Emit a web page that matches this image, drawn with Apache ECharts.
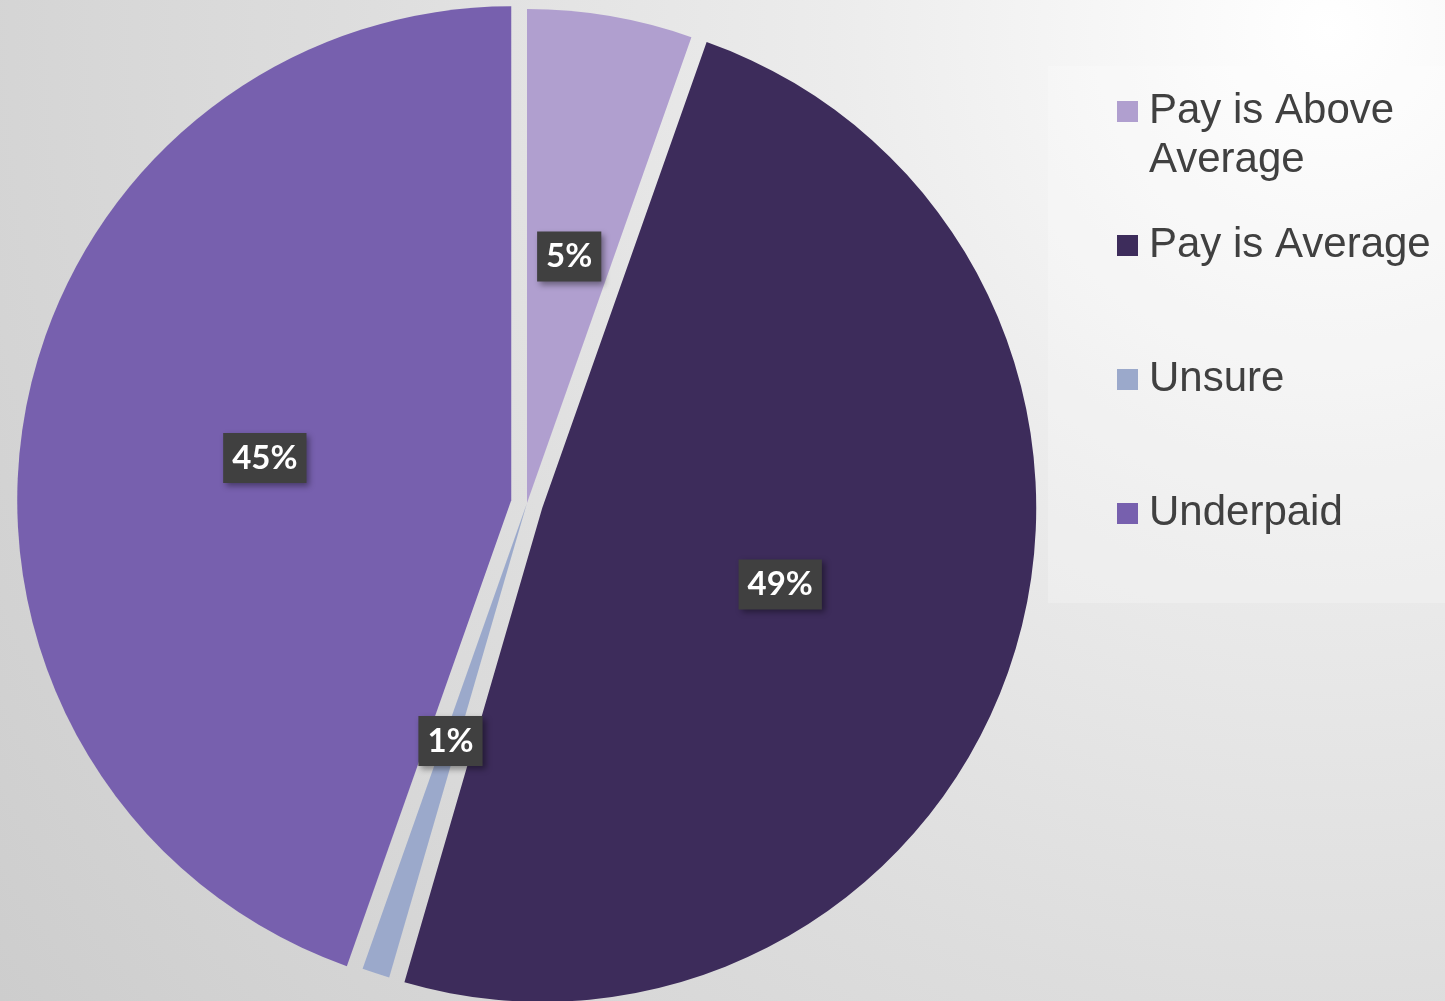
<!DOCTYPE html>
<html>
<head>
<meta charset="utf-8">
<script src="https://cdn.jsdelivr.net/npm/echarts@6/dist/echarts.min.js"></script>
<style>
html,body{margin:0;padding:0;}
#c{width:1445px;height:1001px;background:radial-gradient(circle farthest-corner at 92% 3%, #ffffff 0%, #ececec 30%, #dddddd 60%, #cdcdcd 100%);}
</style>
</head>
<body>
<div id="c"></div>
<script>
// ---- data ----
const categories = ['Pay is Above Average', 'Pay is Average', 'Unsure', 'Underpaid'];
const values = [5.4, 49.1, 0.9, 44.6];
const exploded = [false, true, false, true];
const sliceColors = ['#B09FCF', '#3D2C5B', '#9BA9CB', '#7760AE'];

// ---- chart ----
const chart = echarts.init(document.getElementById('c'), null, {renderer: 'canvas'});

const legendTops = [38, 221, 355, 489];
const legends = categories.map((name, i) => ({
  orient: 'vertical',
  left: 1117,
  top: legendTops[i],
  padding: 0,
  selectedMode: false,
  icon: 'rect',
  itemWidth: 21,
  itemHeight: 21,
  formatter: function (n) {
    return n === 'Pay is Above Average' ? '\nPay is Above\nAverage' : n;
  },
  textStyle: {
    fontFamily: 'Liberation Sans, Arial, sans-serif',
    fontSize: 42,
    lineHeight: 49,
    color: '#404040',
    padding: [0, 0, 0, 6]
  },
  data: [{name: name}]
}));

const option = {
  backgroundColor: 'transparent',
  animation: false,
  color: sliceColors,
  graphic: [{
    type: 'rect',
    left: 1048,
    top: 66,
    shape: {width: 397, height: 537},
    style: {fill: 'rgba(255,255,255,0.22)'},
    silent: true,
    z: -10
  }],
  legend: legends,
  series: [{
    type: 'pie',
    center: [527, 503],
    radius: 494,
    startAngle: 90,
    clockwise: true,
    selectedMode: 'multiple',
    selectedOffset: 16,
    avoidLabelOverlap: false,
    emphasis: {disabled: true},
    select: {itemStyle: {}},
    itemStyle: {borderWidth: 0},
    label: {
      show: true,
      position: 'inside',
      formatter: function (p) { return Math.round(p.percent) + '%'; },
      color: '#ffffff',
      fontFamily: 'Lato, Open Sans, sans-serif',
      fontWeight: 'bold',
      fontSize: 33,
      lineHeight: 32,
      backgroundColor: '#404040',
      padding: [9, 9, 9, 9],
      shadowColor: 'rgba(0,0,0,0.4)',
      shadowBlur: 6,
      shadowOffsetX: 3,
      shadowOffsetY: 3
    },
    labelLine: {show: false},
    data: categories.map((name, i) => ({
      name: name,
      value: values[i],
      selected: exploded[i],
      itemStyle: {color: sliceColors[i]}
    }))
  }]
};

chart.setOption(option);
</script>
</body>
</html>
